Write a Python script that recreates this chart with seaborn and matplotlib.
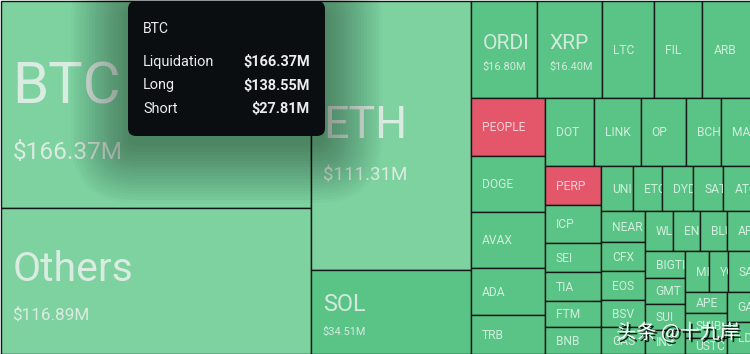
import matplotlib
matplotlib.use("Agg")
import matplotlib.pyplot as plt
import matplotlib.patheffects as pe
from matplotlib.patches import Rectangle, FancyBboxPatch
import seaborn as sns

sns.set_theme(style="white")
plt.rcParams["font.family"] = ["Roboto", "DejaVu Sans"]

coins = ["BTC", "Others", "ETH", "SOL",
         "ORDI", "XRP", "LTC", "FIL", "ARB",
         "PEOPLE", "DOGE", "AVAX", "ADA", "TRB",
         "DOT", "LINK", "OP", "BCH", "MATIC",
         "PERP", "ICP", "SEI", "TIA", "FTM", "BNB",
         "UNI", "ETC", "DYDX", "SATS", "ATOM",
         "NEAR", "CFX", "EOS", "BSV", "GAS",
         "WLD", "ENS", "BLUR", "APT",
         "BIGTIME", "GMT", "SUI", "INJ",
         "MINA", "YGG", "SAND",
         "APE", "SHIB", "USTC",
         "GALA", "LDO"]
liquidation = [166.37, 116.89, 111.31, 34.51,
               16.80, 16.40, 13.15, 12.14, 12.64,
               11.07, 10.69, 10.69, 8.97, 7.45,
               8.60, 8.25, 7.89, 6.14, 5.61,
               5.74, 5.59, 4.26, 4.26, 3.82, 3.97,
               3.60, 3.48, 3.60, 3.48, 3.37,
               3.44, 3.22, 3.22, 3.00, 3.00,
               2.89, 2.79, 2.79, 2.68,
               2.79, 2.68, 2.68, 2.48,
               2.54, 2.01, 2.64,
               2.28, 2.71, 1.73,
               2.01, 2.15]
# how many coins go in each strip of the treemap
strip_sizes = [2, 2, 5, 5, 5, 6, 5, 5, 4, 4, 3, 3, 1, 1]
# coins where shorts were liquidated more than longs
short_heavy = ["PEOPLE", "PERP"]

tip_coin = "BTC"
tip_rows = ["Liquidation", "Long", "Short"]
tip_vals = [166.37, 138.55, 27.81]

W, H = 750, 354
MAP_W = 752  # treemap runs a little past the crop


def strip_layout(values, sizes, x, y, w, h):
    rects = []
    i = 0
    remaining = sum(values)
    for n in sizes:
        group = values[i:i + n]
        s = sum(group)
        if w > h:
            sw = w * s / remaining
            yy = y
            for v in group:
                hh = h * v / s
                rects.append((x, yy, sw, hh))
                yy += hh
            x += sw
            w -= sw
        else:
            sh = h * s / remaining
            xx = x
            for v in group:
                ww = w * v / s
                rects.append((xx, y, ww, sh))
                xx += ww
            y += sh
            h -= sh
        remaining -= s
        i += n
    return rects


def px(v):
    return v * 0.72  # px -> pt at dpi 100


fig = plt.figure(figsize=(W / 100, H / 100), dpi=100)
ax = fig.add_axes([0, 0, 1, 1])
ax.set_xlim(0, W)
ax.set_ylim(H, 0)
ax.axis("off")

rects = strip_layout(liquidation, strip_sizes, 0.5, 0.5, MAP_W, H - 0.5)

for name, val, (x, y, w, h) in zip(coins, liquidation, rects):
    if name in short_heavy:
        fc = "#e4576b"
    elif val >= 100:
        fc = "#7dd2a0"
    else:
        fc = "#5ac487"
    tile = Rectangle((x, y), w, h, facecolor=fc, edgecolor="#141816", lw=1.0, zorder=1)
    ax.add_patch(tile)

    cy = y + h / 2
    if val >= 15:
        n_em = max(0.28 * min(w, h), 21)
        v_em = max(11, 0.42 * n_em)
        cap_n, cap_v = 0.71 * n_em, 0.71 * v_em
        gap = 0.65 * n_em
        top = cy + 0.03 * h - (cap_n + gap + cap_v) / 2
        t1 = ax.text(x + 12, top + cap_n, name, fontsize=px(n_em), color="#f2f2f2",
                     alpha=0.8, va="baseline", ha="left", zorder=2, clip_on=True)
        t2 = ax.text(x + 12, top + cap_n + gap + cap_v, f"${val:.2f}M", fontsize=px(v_em),
                     color="#f2f2f2", alpha=0.8, va="baseline", ha="left", zorder=2, clip_on=True)
        t1.set_clip_path(tile)
        t2.set_clip_path(tile)
    else:
        t = ax.text(x + 11, cy + 0.71 * 12 / 2, name, fontsize=px(12), color="white",
                    alpha=0.72, va="baseline", ha="left", zorder=2, clip_on=True)
        t.set_clip_path(tile)

# tooltip with soft shadow
bx, by, bw, bh = 128, 1, 197, 135
for i in range(20):
    pad = 3 * i
    ax.add_patch(FancyBboxPatch((bx - pad, by - pad + 10), bw + 2 * pad, bh + 2 * pad,
                                boxstyle=f"round,pad=0,rounding_size={8 + pad}",
                                fc="black", lw=0, alpha=0.018, zorder=3))
ax.add_patch(FancyBboxPatch((bx, by), bw, bh, boxstyle="round,pad=0,rounding_size=8",
                            fc="#0b0e11", lw=0, zorder=4))
ax.text(143, 33, tip_coin, fontsize=px(14), color="#eaecef", ha="left", va="baseline", zorder=5)
for k, (lab, v) in enumerate(zip(tip_rows, tip_vals)):
    yb = 66 + 23.5 * k
    ax.text(143, yb, lab, fontsize=px(14.5), color="#eaecef", ha="left", va="baseline", zorder=5)
    ax.text(310, yb, f"${v:.2f}M", fontsize=px(14.5), color="#eaecef", fontweight="bold",
            ha="right", va="baseline", zorder=5)

# watermark
ax.text(678, 333, "头条 @十九岸", fontsize=px(20), color="white",
        family=["Noto Sans CJK SC", "DejaVu Sans"], ha="center", va="center", zorder=6,
        path_effects=[pe.withSimplePatchShadow(offset=(1.5, -1.5), shadow_rgbFace="black", alpha=0.85)])

fig.savefig("out.png", dpi=100)
